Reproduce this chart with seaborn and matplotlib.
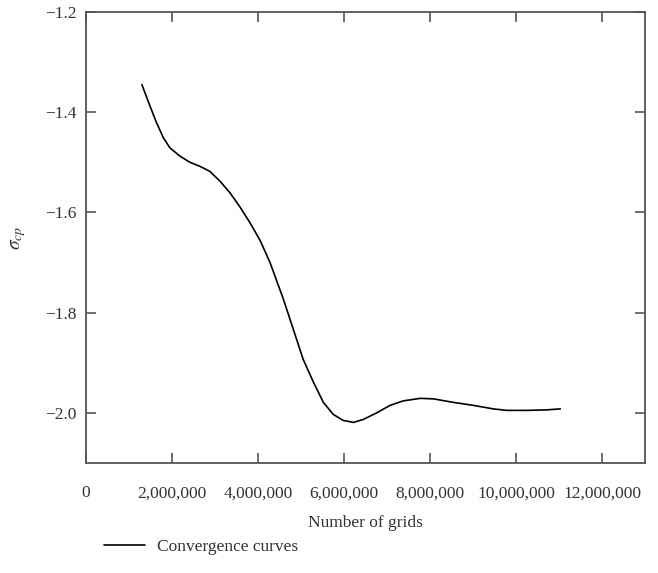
import matplotlib
matplotlib.use("Agg")
import matplotlib.pyplot as plt
import matplotlib.ticker as mticker
import pandas as pd
import seaborn as sns

# values
grids = [1.30e6, 1.49e6, 1.64e6, 1.80e6, 1.95e6, 2.19e6, 2.42e6, 2.65e6,
         2.88e6, 3.12e6, 3.35e6, 3.58e6, 3.81e6, 4.05e6, 4.28e6, 4.59e6,
         4.82e6, 5.05e6, 5.29e6, 5.52e6, 5.75e6, 5.98e6, 6.22e6, 6.45e6,
         6.76e6, 7.07e6, 7.38e6, 7.77e6, 8.08e6, 8.54e6, 9.01e6, 9.47e6,
         9.78e6, 10.25e6, 10.71e6, 11.03e6]
sigma_cp = [-1.345, -1.388, -1.421, -1.451, -1.471, -1.488, -1.500, -1.508,
            -1.518, -1.538, -1.561, -1.589, -1.620, -1.656, -1.700, -1.773,
            -1.833, -1.893, -1.939, -1.979, -2.003, -2.015, -2.019, -2.013,
            -2.000, -1.985, -1.976, -1.971, -1.972, -1.979, -1.985, -1.992,
            -1.995, -1.995, -1.994, -1.992]
x_ticks = [0, 2e6, 4e6, 6e6, 8e6, 10e6, 12e6]
y_ticks = [-2.0, -1.8, -1.6, -1.4, -1.2]
series_name = "Convergence curves"

df = pd.DataFrame({"grids": grids, "sigma": sigma_cp})

sns.set_style("ticks")
plt.rcParams["font.family"] = ["Liberation Serif", "DejaVu Serif"]
plt.rcParams["mathtext.fontset"] = "stix"

grey = "#555555"
text_col = "#333333"

fig = plt.figure(figsize=(6.58, 5.73), dpi=100)
ax = fig.add_axes([86 / 658, 1 - 463 / 573, (645 - 86) / 658, (463 - 12) / 573])

sns.lineplot(data=df, x="grids", y="sigma", ax=ax, color="black",
             linewidth=1.2, label=series_name, legend=False)
ax.lines[0].set_solid_joinstyle("round")

ax.set_xlim(0, 13e6)
ax.set_ylim(-2.1, -1.2)
ax.set_xticks(x_ticks)
ax.set_yticks(y_ticks)
ax.xaxis.set_major_formatter(mticker.FuncFormatter(lambda v, p: f"{int(v):,}"))
ax.yaxis.set_major_formatter(mticker.FuncFormatter(lambda v, p: f"{v:.1f}".replace("-", "\u2212")))

ax.tick_params(direction="in", length=7, width=1.2, color=grey,
               top=True, right=True, labelsize=12.5, labelcolor=text_col)
ax.tick_params(axis="x", pad=16)
ax.tick_params(axis="y", pad=7)
for s in ax.spines.values():
    s.set_color(grey)
    s.set_linewidth(1.3)

ax.set_xlabel("Number of grids", fontsize=12.5, color=text_col, labelpad=10)
ax.set_ylabel(r"$\sigma_{cp}$", fontsize=14, color=text_col, labelpad=12)

handles, labels = ax.get_legend_handles_labels()
fig.legend(handles, labels, loc="center left", bbox_to_anchor=(88 / 658, 1 - 547 / 573),
           frameon=False, fontsize=12.5, handlelength=2.4, handletextpad=0.7,
           labelcolor=text_col)

fig.savefig("out.png", dpi=100)
